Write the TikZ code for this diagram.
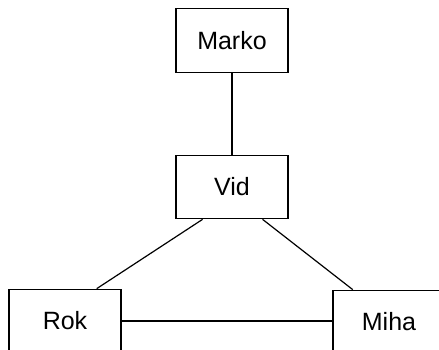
\documentclass[tikz,border=0pt]{standalone}
\usepackage{fontspec}
\setmainfont{Liberation Sans}
\usetikzlibrary{calc}
\begin{document}
\begin{tikzpicture}[x=1pt,y=-1pt,
  person/.style={draw=black,line width=1.2pt,fill=white,minimum width=112pt,minimum height=63.5pt,inner sep=0pt,font=\fontsize{25}{30}\selectfont},
  link/.style={line width=1.2pt}]
\path[use as bounding box,clip] (0,0) rectangle (439,349);
\fill[white] (0,0) rectangle (439,349);
\node[person] (marko) at (232,40.5) {Marko};
\node[person] (vid) at (232,187) {Vid};
\node[person] (rok) at (65,321) {Rok};
\node[person] (miha) at (389,322) {Miha};
\draw[link] (marko) -- (vid);
\draw[link] ($(vid.south west)!0.24!(vid.south east)$) -- ($(rok.north west)!0.78!(rok.north east)$);
\draw[link] ($(vid.south west)!0.77!(vid.south east)$) -- ($(miha.north west)!0.18!(miha.north east)$);
\draw[link] (rok.east) -- (rok.east -| miha.west);
\end{tikzpicture}
\end{document}
